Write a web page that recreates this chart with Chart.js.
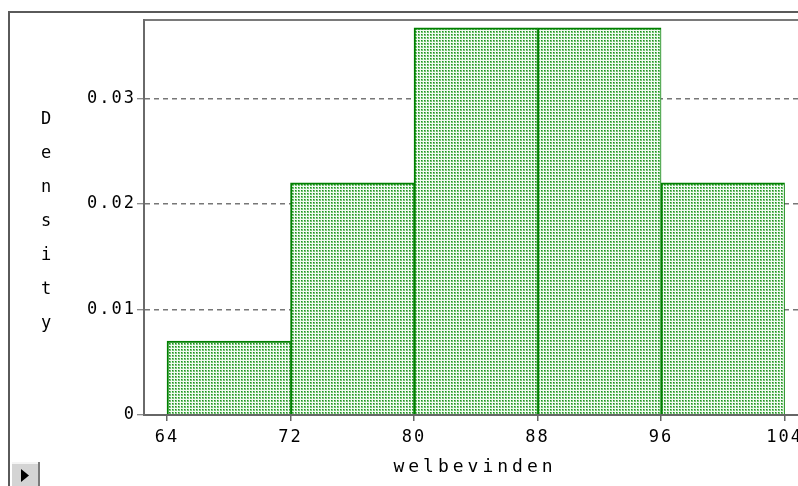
<!DOCTYPE html>
<html>
<head>
<meta charset="utf-8">
<script src="https://cdn.jsdelivr.net/npm/chart.js@4/dist/chart.umd.min.js"></script>
<style>
  html, body { margin: 0; padding: 0; background: #fff; overflow: hidden; }
  #wrap { position: absolute; left: 0; top: 0; width: 840px; height: 486px; }
</style>
</head>
<body>
<div id="wrap"><canvas id="c" width="840" height="486"></canvas></div>
<script>
// ---- data ----
const binCenters = [68, 76, 84, 92, 100];
const densities = [0.0070, 0.0220, 0.0367, 0.0367, 0.0220];
const xTicks = [64, 72, 80, 88, 96, 104];
const yTicks = [0, 0.01, 0.02, 0.03];
const yTickLabels = ['0', '0.01', '0.02', '0.03'];
const xTitle = 'welbevinden';
const yTitle = 'Density';
const xMin = 62.51, xMax = 105.13;
const yMin = 0, yMax = 0.03744;

// ---- fill pattern ----
function makePattern() {
  const t = document.createElement('canvas');
  t.width = 3; t.height = 3;
  const g = t.getContext('2d');
  g.fillStyle = '#f2faf2'; g.fillRect(0, 0, 3, 3);
  g.fillStyle = '#74c274'; g.fillRect(1, 1, 2, 2);
  g.fillStyle = '#1f8f1f'; g.fillRect(1, 1, 1, 1);
  return document.getElementById('c').getContext('2d').createPattern(t, 'repeat');
}

const MONO = "'DejaVu Sans Mono', 'Liberation Mono', monospace";

const decor = {
  id: 'decor',
  beforeDraw(chart) {
    chart.ctx.letterSpacing = '2px';
  },
  beforeDatasetsDraw(chart) {
    const ctx = chart.ctx, a = chart.chartArea;
    ctx.save();
    // outer frame
    ctx.strokeStyle = '#5a5a5a'; ctx.lineWidth = 2;
    ctx.beginPath();
    ctx.moveTo(9, 486); ctx.lineTo(9, 12); ctx.lineTo(840, 12);
    ctx.stroke();
    // plot frame top
    ctx.strokeStyle = '#7a7a7a'; ctx.lineWidth = 2;
    ctx.beginPath();
    ctx.moveTo(a.left, a.top); ctx.lineTo(a.right, a.top);
    ctx.stroke();
    ctx.restore();
  },
  afterDraw(chart) {
    const ctx = chart.ctx, a = chart.chartArea;
    ctx.save();
    ctx.fillStyle = '#000';
    ctx.textAlign = 'center';
    ctx.textBaseline = 'middle';
    // x title
    ctx.letterSpacing = '4px';
    ctx.font = '18px ' + MONO;
    ctx.fillText(xTitle, (a.left + a.right) / 2 + 2, 467);
    // vertical stacked y title
    ctx.letterSpacing = '0px';
    ctx.font = '17px ' + MONO;
    yTitle.split('').forEach((ch, i) => ctx.fillText(ch, 46, 120 + i * 34));
    // small button bottom-left
    ctx.fillStyle = '#d4d4d4';
    ctx.fillRect(12, 462, 28, 24);
    ctx.fillStyle = '#f4f4f4';
    ctx.fillRect(12, 462, 28, 2);
    ctx.fillStyle = '#7a7a7a';
    ctx.fillRect(38, 462, 2, 24);
    ctx.fillStyle = '#000';
    ctx.beginPath();
    ctx.moveTo(21, 469); ctx.lineTo(29, 475.5); ctx.lineTo(21, 482); ctx.closePath();
    ctx.fill();
    ctx.restore();
    ctx.letterSpacing = '0px';
  }
};

new Chart(document.getElementById('c'), {
  type: 'bar',
  data: {
    datasets: [{
      data: binCenters.map((x, i) => ({ x: x, y: densities[i] })),
      backgroundColor: makePattern(),
      borderColor: '#008000',
      borderWidth: { top: 2, left: 2, right: 1, bottom: 0 },
      borderSkipped: false,
      barPercentage: 1,
      categoryPercentage: 1
    }]
  },
  options: {
    responsive: false,
    animation: false,
    events: [],
    layout: { padding: { left: 0, top: 20, right: 38, bottom: 0 } },
    plugins: { legend: { display: false }, tooltip: { enabled: false } },
    scales: {
      x: {
        type: 'linear',
        offset: false,
        min: xMin, max: xMax,
        afterBuildTicks: s => { s.ticks = xTicks.map(v => ({ value: v })); },
        afterFit: s => { s.height = 71; },
        grid: { offset: false, drawOnChartArea: false, drawTicks: true, tickLength: 6, color: '#666', lineWidth: 1.5 },
        border: { display: true, color: '#666', width: 2, z: 1 },
        ticks: { color: '#000', font: { family: MONO, size: 17 }, padding: 6, maxRotation: 0, autoSkip: false,
                 callback: v => String(v) },
        title: { display: false }
      },
      y: {
        min: yMin, max: yMax,
        afterBuildTicks: s => { s.ticks = yTicks.map(v => ({ value: v })); },
        afterFit: s => { s.width = 144; },
        grid: { color: '#777', lineWidth: 1.5, tickBorderDash: [10, 0], tickLength: 7, tickColor: '#666', tickWidth: 1 },
        border: { display: true, color: '#6a6a6a', width: 2, z: 1, dash: [5, 4] },
        ticks: { color: '#000', font: { family: MONO, size: 17 }, padding: 1,
                 callback: (v) => { const i = yTicks.indexOf(v); return i >= 0 ? yTickLabels[i] : ''; } }
      }
    }
  },
  plugins: [decor]
});
</script>
</body>
</html>
